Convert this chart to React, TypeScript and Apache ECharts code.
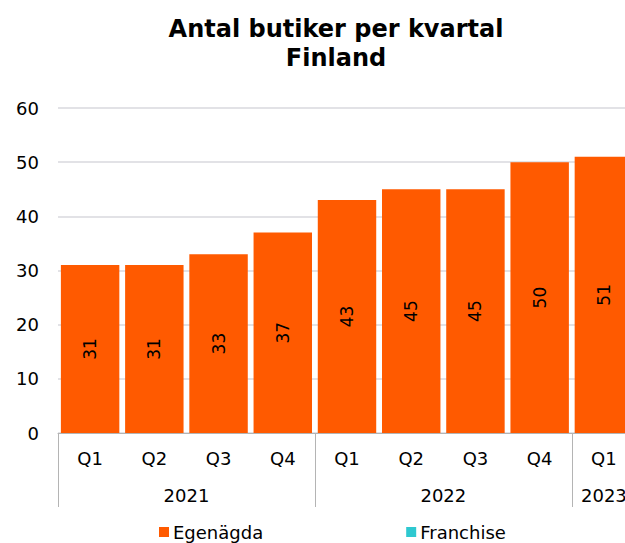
import React, { useEffect, useRef } from "react";
import * as echarts from "echarts";

const quarters = ["Q1", "Q2", "Q3", "Q4", "Q1", "Q2", "Q3", "Q4", "Q1"];
const egenagda = [31, 31, 33, 37, 43, 45, 45, 50, 51];
const franchise: (number | null)[] = [];
const yearLabels = ["2021", "2022", "2023"];
const yearCenters = [2, 6, 8.5];
const yearBounds = [0, 4, 8];

export default function App() {
  const ref = useRef<HTMLDivElement>(null);
  useEffect(() => {
    document.body.style.margin = "0";
    if (!ref.current) return;
    const chart = echarts.init(ref.current, null, { renderer: "svg" });
    const font = "DejaVu Sans";
    chart.setOption({
      animation: false,
      textStyle: { fontFamily: font },
      title: {
        text: "Antal butiker per kvartal\nFinland",
        left: 331,
        textAlign: "center",
        top: 9,
        textStyle: {
          fontFamily: font,
          fontSize: 24,
          fontWeight: "bold",
          lineHeight: 29,
          color: "#000",
        },
      },
      legend: {
        bottom: -3,
        left: 154,
        itemWidth: 10,
        itemHeight: 10,
        itemGap: 143,
        icon: "rect",
        textStyle: { fontFamily: font, fontSize: 18, color: "#000", padding: [0, 0, 0, -1] },
        data: ["Egenägda", "Franchise"],
      },
      grid: { left: 58, right: 0, top: 108, bottom: 110, containLabel: false },
      xAxis: [
        {
          type: "category",
          data: quarters,
          position: "bottom",
          axisLine: { show: true, lineStyle: { color: "#b4b4b4", width: 1 } },
          axisTick: { show: false },
          axisLabel: { fontFamily: font, fontSize: 18, color: "#000", margin: 16, interval: 0 },
        },
        {
          type: "value",
          position: "bottom",
          min: 0,
          max: 9,
          axisLine: { show: false },
          splitLine: { show: false },
          axisTick: {
            show: true,
            customValues: yearBounds,
            length: 74,
            lineStyle: { color: "#b4b4b4", width: 1 },
          },
          axisLabel: {
            customValues: yearCenters,
            fontFamily: font,
            fontSize: 18,
            color: "#000",
            margin: 53,
            showMinLabel: true,
            showMaxLabel: true,
            formatter: (v: number) => {
              const i = yearCenters.indexOf(v);
              return i >= 0 ? yearLabels[i] : "";
            },
          },
        },
      ],
      yAxis: {
        type: "value",
        min: 0,
        max: 60,
        interval: 10,
        axisLine: { show: false },
        axisTick: { show: false },
        splitLine: { lineStyle: { color: "#d9d9de", width: 1.5 } },
        axisLabel: { fontFamily: font, fontSize: 18, color: "#000", margin: 19 },
      },
      series: [
        {
          name: "Egenägda",
          type: "bar",
          stack: "total",
          xAxisIndex: 0,
          data: egenagda,
          barCategoryGap: "9%",
          itemStyle: { color: "#FF5A00" },
          label: {
            show: true,
            position: "inside",
            rotate: 90,
            fontFamily: font,
            fontSize: 17,
            color: "#000",
          },
        },
        {
          name: "Franchise",
          type: "bar",
          stack: "total",
          xAxisIndex: 0,
          data: franchise,
          itemStyle: { color: "#2EC8D0" },
        },
      ],
    });
    return () => chart.dispose();
  }, []);
  return (
    <div style={{ width: 625, height: 543, overflow: "hidden", position: "relative" }}>
      <div ref={ref} style={{ width: 636, height: 543 }} />
    </div>
  );
}
